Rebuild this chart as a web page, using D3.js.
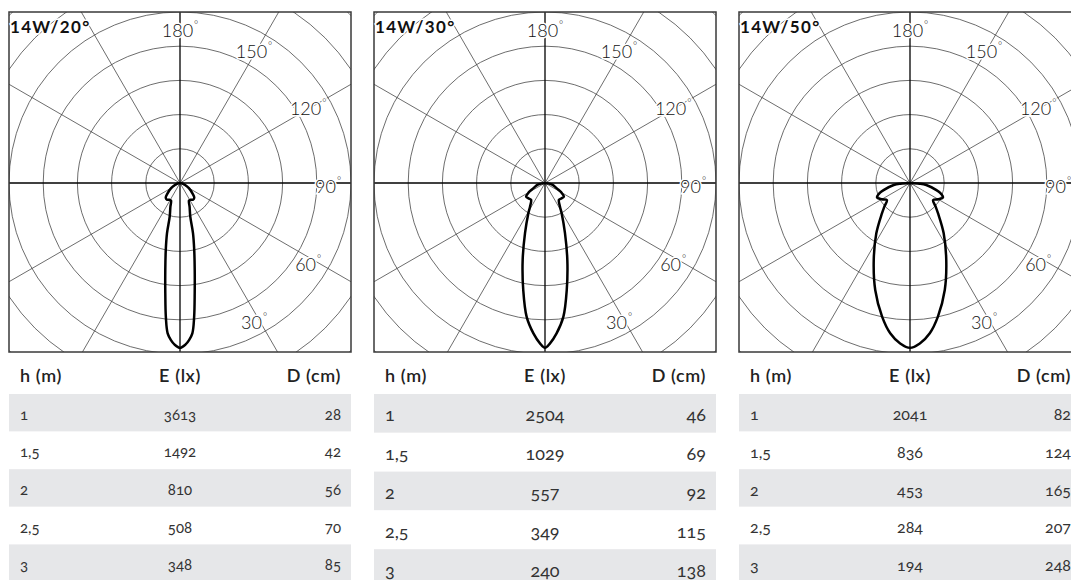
<!DOCTYPE html>
<html>
<head>
<meta charset="utf-8">
<script src="https://cdn.jsdelivr.net/npm/d3@7/dist/d3.min.js"></script>
<style>
  body { margin: 0; background: #fff; }
  text { font-family: Lato, "Open Sans", sans-serif; }
  .num { font-variant-numeric: oldstyle-nums; }
</style>
</head>
<body>
<div class="chart"></div>
<script>
// data
var titles = ['14W/20°', '14W/30°', '14W/50°'];
var heights = ['1', '1,5', '2', '2,5', '3'];
var lux20 = [3613, 1492, 810, 508, 348];
var lux30 = [2504, 1029, 557, 349, 240];
var lux50 = [2041, 836, 453, 284, 194];
var diam20 = [28, 42, 56, 70, 85];
var diam30 = [46, 69, 92, 115, 138];
var diam50 = [82, 124, 165, 207, 248];
var angleLabels = [180, 150, 120, 90, 60, 30];
var headers = ['h (m)', 'E (lx)', 'D (cm)'];

// polar curves: gamma from nadir (deg) and intensity in ring units
var gamma20 = [0, 2, 3.3, 4.7, 6, 7.6, 9.6, 12, 14.5, 17, 22, 27, 32, 38, 44, 50, 60, 70, 80, 90];
var curve20 = [4.82, 4.72, 4.6, 4.41, 3.95, 3.25, 2.58, 2.0, 1.52, 1.03, 0.75, 0.58, 0.58, 0.62, 0.6, 0.48, 0.3, 0.15, 0.05, 0];
var gamma30 = [0, 1.8, 4.4, 7.8, 11.5, 16.2, 21.7, 28.8, 32.3, 39.5, 47, 54, 60, 65.6, 72, 79, 90];
var curve30 = [4.82, 4.69, 4.41, 3.95, 3.19, 2.34, 1.58, 1.01, 0.82, 0.64, 0.66, 0.68, 0.55, 0.38, 0.28, 0.2, 0];
var gamma50 = [0, 3.5, 7.5, 11.8, 18, 25.2, 33.8, 42.7, 47.3, 53.5, 60, 66.6, 72, 75, 83, 86, 90];
var curve50 = [4.82, 4.7, 4.43, 3.99, 3.29, 2.49, 1.77, 1.21, 1.02, 0.84, 0.95, 1.05, 0.92, 0.8, 0.48, 0.28, 0];

var panels = [
  { title: titles[0], gamma: gamma20, curve: curve20, lux: lux20, diam: diam20 },
  { title: titles[1], gamma: gamma30, curve: curve30, lux: lux30, diam: diam30 },
  { title: titles[2], gamma: gamma50, curve: curve50, lux: lux50, diam: diam50 }
];

// layout
var W = 1071, H = 580;
var half = 171, boxTop = 12, boxH = 340, cy = boxTop + half;
var centers = [180, 545, 910];
var tableStyle = [
  { font: 15, rowH: 37.6, base: 7 },
  { font: 18, rowH: 38.8, base: 8 },
  { font: 16, rowH: 37.6, base: 7.5 }
];

var r = d3.scaleLinear().domain([0, 5]).range([0, half]);
var rings = d3.range(1, 8);
var spokes = d3.range(0, 180, 30);

var svg = d3.select('.chart').append('svg').attr('width', W).attr('height', H);

panels.forEach(function (p, i) {
  var cx = centers[i], left = cx - half, right = cx + half;
  var g = svg.append('g');

  g.append('clipPath').attr('id', 'clip' + i)
    .append('rect').attr('x', left).attr('y', boxTop).attr('width', half * 2).attr('height', boxH);

  var grid = g.append('g').attr('clip-path', 'url(#clip' + i + ')')
    .append('g').attr('transform', 'translate(' + cx + ',' + cy + ')');

  grid.selectAll('.ring').data(rings).enter().append('circle')
    .attr('r', function (d) { return r(d); })
    .attr('fill', 'none').attr('stroke', '#3c3c3c').attr('stroke-width', 0.75);

  grid.selectAll('.spoke').data(spokes).enter().append('line')
    .attr('x1', function (d) { return -400 * Math.sin(d * Math.PI / 180); })
    .attr('y1', function (d) { return -400 * Math.cos(d * Math.PI / 180); })
    .attr('x2', function (d) { return 400 * Math.sin(d * Math.PI / 180); })
    .attr('y2', function (d) { return 400 * Math.cos(d * Math.PI / 180); })
    .attr('stroke', function (d) { return d % 90 === 0 ? '#000' : '#3c3c3c'; })
    .attr('stroke-width', function (d) { return d % 90 === 0 ? 1.3 : 0.75; });

  // lobe, mirrored around the nadir
  var pts = [];
  for (var k = p.gamma.length - 1; k > 0; k--) pts.push([-p.gamma[k], p.curve[k]]);
  for (var k2 = 0; k2 < p.gamma.length; k2++) pts.push([p.gamma[k2], p.curve[k2]]);

  var lobe = d3.lineRadial()
    .angle(function (d) { return Math.PI - d[0] * Math.PI / 180; })
    .radius(function (d) { return r(d[1]); })
    .curve(d3.curveCatmullRom);

  grid.append('path').attr('d', lobe(pts))
    .attr('fill', 'none').attr('stroke', '#000').attr('stroke-width', 2.5)
    .attr('stroke-linejoin', 'round');

  g.append('rect').attr('x', left).attr('y', boxTop).attr('width', half * 2).attr('height', boxH)
    .attr('fill', 'none').attr('stroke', '#3a3a3a').attr('stroke-width', 1.5);

  // angle labels
  var alab = g.selectAll('.alab').data(angleLabels).enter().append('text')
    .attr('x', function (d) { return cx + 148 * Math.sin((180 - d) * Math.PI / 180); })
    .attr('y', function (d) { return cy + 4 - 156 * Math.cos((180 - d) * Math.PI / 180); })
    .attr('dy', '0.36em')
    .attr('text-anchor', 'middle')
    .attr('font-size', 18).attr('font-weight', 300).attr('fill', '#111')
    .attr('stroke', '#fff').attr('stroke-width', 3).attr('paint-order', 'stroke');
  alab.append('tspan').text(function (d) { return d; });
  alab.append('tspan').attr('font-size', 10).attr('dx', 1).attr('dy', '-0.9em').text('°');

  g.append('text').attr('x', left + 1).attr('y', boxTop + 21)
    .attr('font-size', 17).attr('font-weight', 700).attr('fill', '#111')
    .attr('letter-spacing', 1.3)
    .attr('stroke', '#fff').attr('stroke-width', 3).attr('paint-order', 'stroke')
    .text(p.title);

  // table
  var st = tableStyle[i];
  var colX = [left + 11, cx, right - 10];
  var anchors = ['start', 'middle', 'end'];
  var rowTop = 394;

  g.selectAll('.hdr').data(headers).enter().append('text')
    .attr('x', function (d, j) { return colX[j]; })
    .attr('y', 382)
    .attr('text-anchor', function (d, j) { return anchors[j]; })
    .attr('font-size', 18).attr('font-weight', 600).attr('fill', '#222')
    .attr('letter-spacing', 0.6)
    .text(function (d) { return d; });

  var rows = heights.map(function (h, j) { return [h, p.lux[j], p.diam[j]]; });

  g.selectAll('.band').data(rows).enter().append('rect')
    .attr('x', left).attr('width', half * 2)
    .attr('y', function (d, j) { return rowTop + j * st.rowH; })
    .attr('height', st.rowH)
    .attr('fill', function (d, j) { return j % 2 === 0 ? '#e6e7e9' : '#fff'; });

  var row = g.selectAll('.row').data(rows).enter().append('g')
    .attr('transform', function (d, j) { return 'translate(0,' + (rowTop + (j + 0.5) * st.rowH + st.base) + ')'; });

  row.selectAll('text').data(function (d) { return d; }).enter().append('text')
    .attr('class', 'num')
    .attr('x', function (d, j) { return colX[j]; })
    .attr('text-anchor', function (d, j) { return anchors[j]; })
    .attr('font-size', st.font).attr('font-weight', 400).attr('fill', '#333')
    .text(function (d) { return d; });
});
</script>
</body>
</html>
